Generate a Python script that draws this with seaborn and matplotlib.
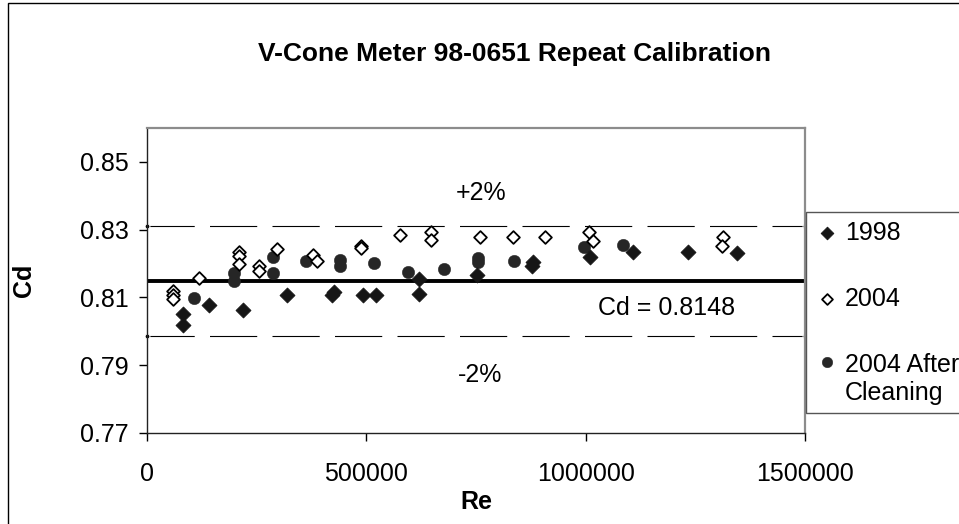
import numpy as np
import pandas as pd
import seaborn as sns
import matplotlib.pyplot as plt
from matplotlib.patches import Rectangle

# readings taken off the reference chart
re_1998 = [82800, 82800, 142000, 219600, 319800, 421000, 426300, 493000, 522000,
           620800, 620800, 753000, 876900, 880700, 1009800, 1108600, 1234000, 1345700]
cd_1998 = [0.8050, 0.8020, 0.8079, 0.8062, 0.8106, 0.8108, 0.8115, 0.8108, 0.8108,
           0.8155, 0.8109, 0.8167, 0.8194, 0.8204, 0.8220, 0.8235, 0.8233, 0.8231]

re_2004 = [60000, 60000, 60000, 119300, 210500, 210500, 210500, 256000, 256000, 295600,
           377700, 386800, 487000, 487000, 576700, 647400, 647400, 759000, 835000, 907300,
           1008300, 1017400, 1313800, 1310000]
cd_2004 = [0.8120, 0.8108, 0.8094, 0.8157, 0.8235, 0.8221, 0.8199, 0.8192, 0.8179, 0.8243,
           0.8225, 0.8209, 0.8253, 0.8245, 0.8284, 0.8292, 0.8270, 0.8277, 0.8277, 0.8277,
           0.8294, 0.8267, 0.8277, 0.8253]

re_clean = [107100, 198300, 198300, 286500, 286500, 362500, 440000, 440000, 518000,
            595700, 677800, 755000, 755000, 836600, 996200, 1085800]
cd_clean = [0.8098, 0.8172, 0.8150, 0.8218, 0.8172, 0.8209, 0.8211, 0.8192, 0.8202,
            0.8176, 0.8184, 0.8215, 0.8204, 0.8207, 0.8248, 0.8255]

cd_mean = 0.8148
band = 0.02
re_span = [0, 1500000]

x_ticks = [0, 500000, 1000000, 1500000]
x_labels = ['0', '500000', '1000000', '1500000']
y_ticks = [0.77, 0.79, 0.81, 0.83, 0.85]
y_labels = ['0.77', '0.79', '0.81', '0.83', '0.85']

sns.set_theme(style="white")
plt.rcParams['font.family'] = ['Liberation Sans', 'DejaVu Sans']
plt.rcParams['lines.scale_dashes'] = False
for k in ('text.color', 'axes.labelcolor', 'xtick.color', 'ytick.color'):
    plt.rcParams[k] = 'black'

W, H = 959, 524
fig = plt.figure(figsize=(W / 100, H / 100), dpi=100)
ax = fig.add_axes([147 / W, 1 - 433 / H, 658 / W, 305 / H])

# reference lines: mean and +/- 2 %
hi = cd_mean * (1 + band)
lo = cd_mean * (1 - band)
sns.lineplot(x=re_span, y=[cd_mean] * 2, ax=ax, color='black', lw=2.8, legend=False, zorder=2)
for yv in (hi, lo):
    sns.lineplot(x=re_span, y=[yv] * 2, ax=ax, color='black', lw=0.8, ls=(0, (34, 11)),
                 marker='o', markersize=3.5, legend=False, clip_on=False, zorder=2)

# data series
sns.scatterplot(x=re_clean, y=cd_clean, ax=ax, marker='o', s=80, color='#262626',
                edgecolor='#262626', linewidth=0.3, zorder=3)
sns.scatterplot(x=re_1998, y=cd_1998, ax=ax, marker='D', s=58, color='#161616',
                edgecolor='#161616', linewidth=0.6, zorder=4)
sns.scatterplot(x=re_2004, y=cd_2004, ax=ax, marker='D', s=42, facecolor='white',
                edgecolor='black', linewidth=1.3, zorder=5)
coll_clean, coll_1998, coll_2004 = ax.collections[-3:]

ax.set_xlim(0, 1500000)
ax.set_ylim(0.77, 0.86)
ax.set_xticks(x_ticks)
ax.set_xticklabels(x_labels)
ax.set_yticks(y_ticks)
ax.set_yticklabels(y_labels)
ax.tick_params(axis='both', direction='out', length=6, width=1, color='black',
               labelsize=18, labelcolor='black', left=True, bottom=True)
ax.tick_params(axis='x', pad=15)
ax.tick_params(axis='y', pad=7)

for s in ('left', 'bottom'):
    ax.spines[s].set_color('#222222')
    ax.spines[s].set_linewidth(1)
for s in ('top', 'right'):
    ax.spines[s].set_color('#8c8c8c')
    ax.spines[s].set_linewidth(1.6)

ax.set_xlabel('Re', fontsize=18, fontweight='bold', labelpad=3)
ax.set_ylabel('Cd', fontsize=18, fontweight='bold', labelpad=32)

ax.text(0.5076, 0.787, '+2%', transform=ax.transAxes, ha='center', va='center', fontsize=18)
ax.text(0.506, 0.190, '-2%', transform=ax.transAxes, ha='center', va='center', fontsize=18)
ax.text(0.789, 0.410, f'Cd = {cd_mean}', transform=ax.transAxes, ha='center', va='center',
        fontsize=18)

fig.text(515 / W, 1 - 54 / H, 'V-Cone Meter 98-0651 Repeat Calibration', ha='center',
         va='center', fontsize=19, fontweight='bold')

leg = ax.legend([coll_1998, coll_2004, coll_clean], ['1998', '2004', '2004 After\nCleaning'],
                loc='upper left', bbox_to_anchor=(806 / W, 1 - 212 / H),
                bbox_transform=fig.transFigure, frameon=True, fancybox=False,
                edgecolor='#555555', facecolor='white', framealpha=1, fontsize=18,
                labelspacing=1.68, handlelength=1.0, handletextpad=0.2, borderpad=0.35,
                borderaxespad=0, markerscale=0.85)
leg.get_frame().set_linewidth(1)
# put the marker of the two-line entry next to its first line
h_clean = leg.legend_handles[2]
off = np.asarray(h_clean.get_offsets(), dtype=float)
off[:, 1] += 14
h_clean.set_offsets(off)

fig.patches.append(Rectangle((7.5 / W, -0.1), 1.2, 1.1 - 2.5 / H, transform=fig.transFigure,
                             fill=False, edgecolor='black', lw=1))

fig.savefig('out.png', dpi=100)
